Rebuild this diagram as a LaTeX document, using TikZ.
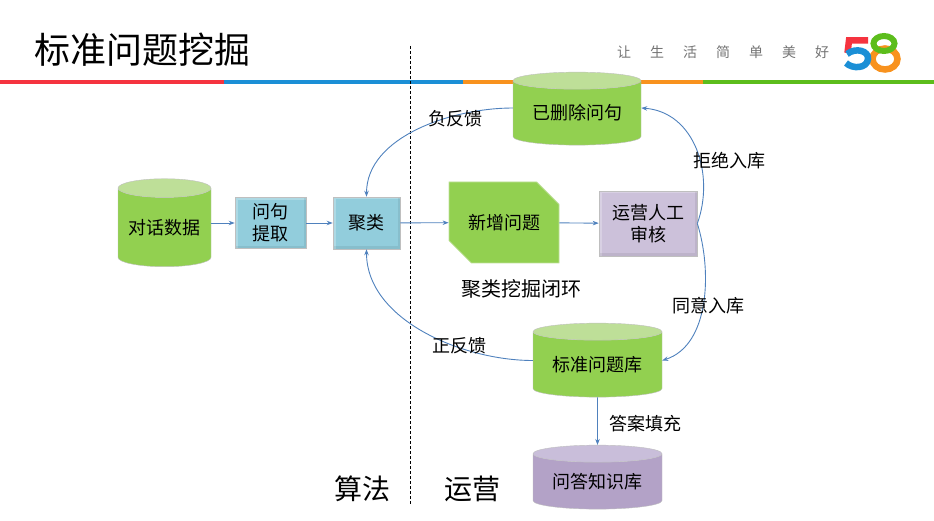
\documentclass[tikz,border=0pt]{standalone}
\usepackage{fontspec}
\setmainfont{Noto Sans CJK SC}
\usepackage{tikz}
\usetikzlibrary{arrows.meta,positioning,shapes.geometric,shapes.misc}
\definecolor{linkblue}{HTML}{4F81BD}
\definecolor{leafgreen}{HTML}{92D050}
\definecolor{leaftop}{HTML}{BEDF98}
\definecolor{skybox}{HTML}{92CDDC}
\definecolor{lilacbox}{HTML}{CCC1DA}
\definecolor{lilacbody}{HTML}{B3A2C7}
\definecolor{lilactop}{HTML}{C9BEDA}
\definecolor{bandred}{HTML}{F5333F}
\definecolor{bandblue}{HTML}{1B8FD6}
\definecolor{bandorange}{HTML}{F8921E}
\definecolor{bandgreen}{HTML}{5CBD1C}
\begin{document}
\begin{tikzpicture}[x=1pt, y=-1pt, >={Stealth[length=6pt,width=4.5pt]},
  store/.style={cylinder, shape border rotate=90, draw=gray!50, line width=0.4pt, cylinder uses custom fill, cylinder body fill=leafgreen, cylinder end fill=leaftop, inner sep=0pt, font=\fontsize{18}{20}\selectfont},
  proc/.style={rectangle, draw=gray!50, line width=0.6pt, align=center, inner sep=0pt, font=\fontsize{18}{22}\selectfont,
    path picture={
      \draw[white, opacity=0.25, line width=5pt] (path picture bounding box.south west) -- (path picture bounding box.north west) -- (path picture bounding box.north east);
      \draw[black, opacity=0.07, line width=5pt] (path picture bounding box.north east) -- (path picture bounding box.south east) -- (path picture bounding box.south west);
    }},
  link/.style={linkblue, line width=0.9pt, ->},
  tag/.style={font=\fontsize{18}{20}\selectfont, inner sep=0pt},
  slogan/.style={font=\fontsize{14}{16}\selectfont, text=gray!90!black, inner sep=0pt}]
  \useasboundingbox (0,0) rectangle (934,521);
  % header band
  \node[font=\fontsize{36}{40}\selectfont, inner sep=0pt] (title) at (142.5,50) {标准问题挖掘};
  \fill[bandred] (0,80) rectangle (224,84);
  \fill[bandblue] (224,80) rectangle (463,84);
  \fill[bandorange] (463,80) rectangle (703,84);
  \fill[bandgreen] (703,80) rectangle (934,84);
  \foreach \ch [count=\i from 0] in {让,生,活,简,单,美,好} \node[slogan] (sl\i) at (624+33*\i,52) {\ch};
  % logo
  \draw[bandorange, line width=6.5pt] (885,59) ellipse (12.5 and 10.5);
  \draw[bandgreen, line width=6pt] (884,43.5) ellipse (10.5 and 7.5);
  \draw[bandred, line width=6.5pt] (868,40.5) -- (849,40.5) -- (847.5,53);
  \draw[bandblue, line width=6.5pt] (847,54) .. controls (856,47) and (869,51) .. (868,59) .. controls (867,69) and (852,69) .. (846,63);
  % separator
  \coordinate (septop) at (410,46);
  \coordinate (sepbot) at (410,505);
  \draw[densely dashed, line width=0.7pt] (septop) -- (sepbot);
  % nodes
  \node[store, aspect=0.26, minimum width=93pt, minimum height=88pt] (dialog) at (164.5,227.5) {对话数据};
  \node[proc, fill=skybox, minimum width=71pt, minimum height=51pt] (extract) at (270.5,223) {问句\\提取};
  \node[proc, fill=skybox, minimum width=67pt, minimum height=52pt] (cluster) at (366.5,223) {聚类};
  \node[chamfered rectangle, chamfered rectangle corners={north east,south west}, chamfered rectangle xsep=14pt, chamfered rectangle ysep=14pt, fill=leafgreen, draw=leaftop, line width=0.8pt, inner sep=0pt, minimum width=110pt, minimum height=81pt, font=\fontsize{18}{20}\selectfont] (newq) at (504,222.5) {新增问题};
  \node[proc, fill=lilacbox, minimum width=98pt, minimum height=65pt] (review) at (648,223.5) {运营人工\\审核};
  \node[store, aspect=0.19, minimum width=128pt, minimum height=73pt] (deleted) at (577,113) {已删除问句};
  \node[store, aspect=0.19, minimum width=129pt, minimum height=74pt] (stdlib) at (597.5,364.5) {标准问题库};
  \node[store, aspect=0.19, minimum width=129pt, minimum height=64pt, cylinder body fill=lilacbody, cylinder end fill=lilactop] (kb) at (597.5,481.5) {问答知识库};
  % links
  \draw[link] (dialog.east |- extract) -- (extract);
  \draw[link] (extract) -- (cluster);
  \draw[link] (cluster) -- (newq);
  \draw[link] (newq) -- (review);
  \draw[link] (review.east) .. controls (715,175) and (695,112) .. ([yshift=5pt]deleted.east);
  \draw[link] (review.east) .. controls (712,270) and (710,345) .. ([yshift=4pt]stdlib.east);
  \draw[link] ([yshift=5pt]deleted.west) to[out=180, in=90, looseness=0.9] (cluster.north);
  \draw[link] ([yshift=4pt]stdlib.west) to[out=180, in=-90, looseness=0.9] (cluster.south);
  \draw[link] (stdlib.south) -- (kb.north);
  % labels
  \node[tag] (neg) at (455,119) {负反馈};
  \node[tag] (reject) at (729,161) {拒绝入库};
  \node[tag] (accept) at (708,306) {同意入库};
  \node[tag, font=\fontsize{20}{22}\selectfont] (loop) at (521,289) {聚类挖掘闭环};
  \node[tag] (pos) at (459,346) {正反馈};
  \node[tag] (fill) at (645,424) {答案填充};
  \node[tag, font=\fontsize{28}{30}\selectfont] (algo) at (362,489) {算法};
  \node[tag, font=\fontsize{28}{30}\selectfont] (ops) at (472,489) {运营};
\end{tikzpicture}
\end{document}
